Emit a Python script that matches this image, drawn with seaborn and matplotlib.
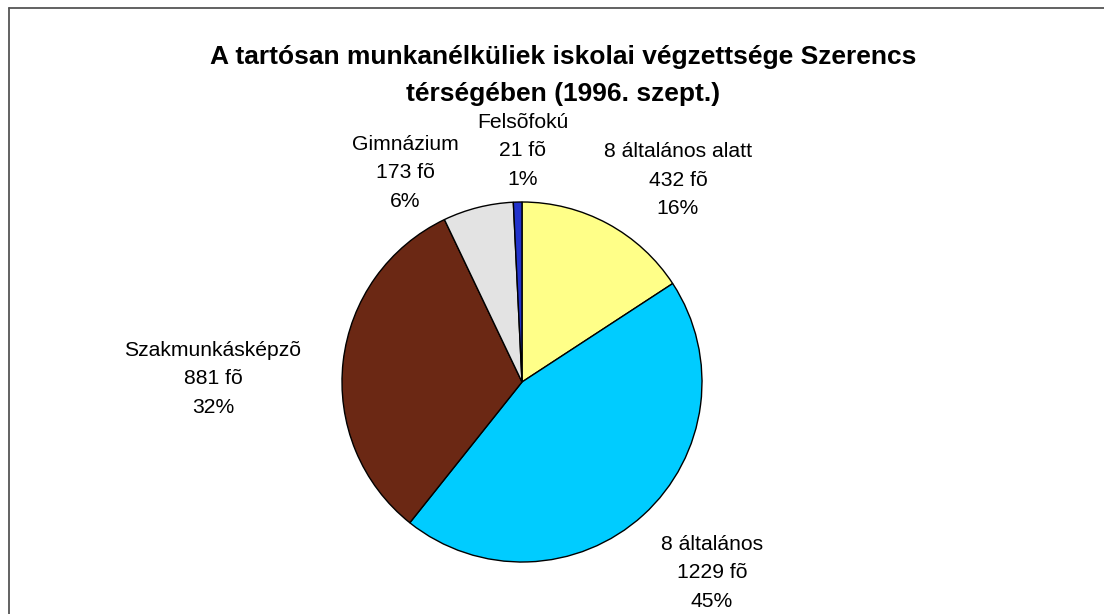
import matplotlib
matplotlib.use("Agg")
import matplotlib.pyplot as plt
from matplotlib.lines import Line2D
import seaborn as sns

# ---- data ----
categories = ["8 általános alatt", "8 általános", "Szakmunkásképzõ", "Gimnázium", "Felsõfokú"]
counts = [432, 1229, 881, 173, 21]
colors = ["#FFFF88", "#00CCFF", "#6B2814", "#E3E3E3", "#2233CC"]
title_lines = ["A tartósan munkanélküliek iskolai végzettsége Szerencs",
               "térségében (1996. szept.)"]

# label anchor positions (pixel coords of the middle line centre)
label_px = [(678, 180), (712, 573), (213, 379), (405, 173), (523, 151)]

sns.set_theme(style="white")
plt.rcParams['font.family'] = ['Liberation Sans', 'DejaVu Sans']

W, H = 1104, 614
cx, cy, R = 522, 382, 180
fig = plt.figure(figsize=(W / 100, H / 100), dpi=100)
ax = fig.add_axes([0, 0, 1, 1])
ax.axis('off')

ax.pie(counts, colors=colors, startangle=90, counterclock=False, radius=1.0,
       center=(0, 0), wedgeprops=dict(edgecolor='black', linewidth=1.0),
       frame=False)
ax.set_aspect('equal')
ax.set_xlim(-cx / R, (W - cx) / R)
ax.set_ylim(-(H - cy) / R, cy / R)

total = sum(counts)
line_gap = 28.5
for cat, n, (px, py) in zip(categories, counts, label_px):
    pct = round(100 * n / total)
    lines = [cat, f"{n} fõ", f"{pct}%"]
    for i, t in enumerate(lines):
        yy = py + (i - 1) * line_gap
        ax.text((px - cx) / R, (cy - yy) / R, t, ha='center', va='center',
                fontsize=15.2, color='black')

for i, t in enumerate(title_lines):
    fig.text(563 / W, 1 - (57 + i * 37) / H, t, ha='center', va='center',
             fontsize=19, fontweight='bold', color='black')

# chart border
fig.add_artist(Line2D([8.5 / W, 8.5 / W], [0, 1 - 7.5 / H], transform=fig.transFigure,
                      color='#555555', linewidth=1.3))
fig.add_artist(Line2D([8.5 / W, 1], [1 - 7.5 / H, 1 - 7.5 / H], transform=fig.transFigure,
                      color='#555555', linewidth=1.3))

fig.savefig("out.png", dpi=100, facecolor='white')
